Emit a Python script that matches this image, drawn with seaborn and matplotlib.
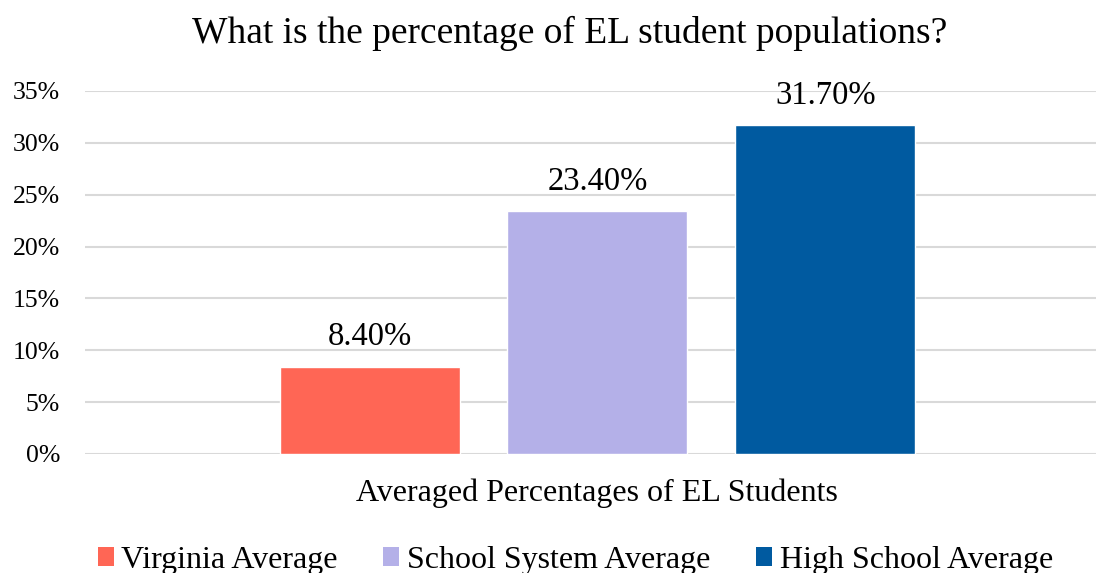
import matplotlib
matplotlib.use("Agg")
import matplotlib.pyplot as plt
import seaborn as sns
import pandas as pd
from matplotlib.patches import Patch

category = ["Averaged Percentages of EL Students"]
series = ["Virginia Average", "School System Average", "High School Average"]
values = [8.4, 23.4, 31.7]
colors = ["#FF6655", "#B4B0E8", "#005AA0"]
y_ticks = [0, 5, 10, 15, 20, 25, 30, 35]

df = pd.DataFrame({
    "category": category * len(series),
    "series": series,
    "value": values,
})

sns.set_theme(style="white")
plt.rcParams["font.family"] = ["Liberation Serif", "DejaVu Serif"]
plt.rcParams["text.color"] = "black"
plt.rcParams["xtick.color"] = "black"
plt.rcParams["ytick.color"] = "black"

fig = plt.figure(figsize=(10.96, 5.73), dpi=100)
ax = fig.add_axes([0.0776, 0.2077, 0.935, 0.6335])

sns.barplot(data=df, x="category", y="value", hue="series",
            palette=colors, hue_order=series, width=0.667, gap=0.21,
            saturation=1, legend=False, ax=ax, errorbar=None)

ax.set_ylim(0, 35)
ax.set_xlim(-0.5, 0.5)
ax.set_yticks(y_ticks)
ax.set_yticklabels([f"{t}%" for t in y_ticks], fontsize=18.5)
ax.tick_params(axis="y", length=0, pad=18)
ax.tick_params(axis="x", length=0, pad=18, labelsize=23)
ax.set_xlabel("")
ax.set_ylabel("")
ax.yaxis.grid(True, color="#D9D9D9", linewidth=1.5)
ax.set_axisbelow(True)
for s in ax.spines.values():
    s.set_visible(False)

for bar, v in zip(ax.patches, values):
    ax.text(bar.get_x() + bar.get_width() / 2, v + 1.4, f"{v:.2f}%",
            ha="center", va="bottom", fontsize=23.5)

fig.text(0.52, 0.942, "What is the percentage of EL student populations?",
         fontsize=27, ha="center", va="center")

handles = [Patch(facecolor=c, edgecolor="none") for c in colors]
fig.legend(handles, series, loc="center", bbox_to_anchor=(0.525, 0.022),
           ncol=3, frameon=False, fontsize=23, handlelength=0.5,
           handleheight=0.5, handletextpad=0.25, columnspacing=1.42)

fig.savefig("out.png", dpi=100, facecolor="white")
